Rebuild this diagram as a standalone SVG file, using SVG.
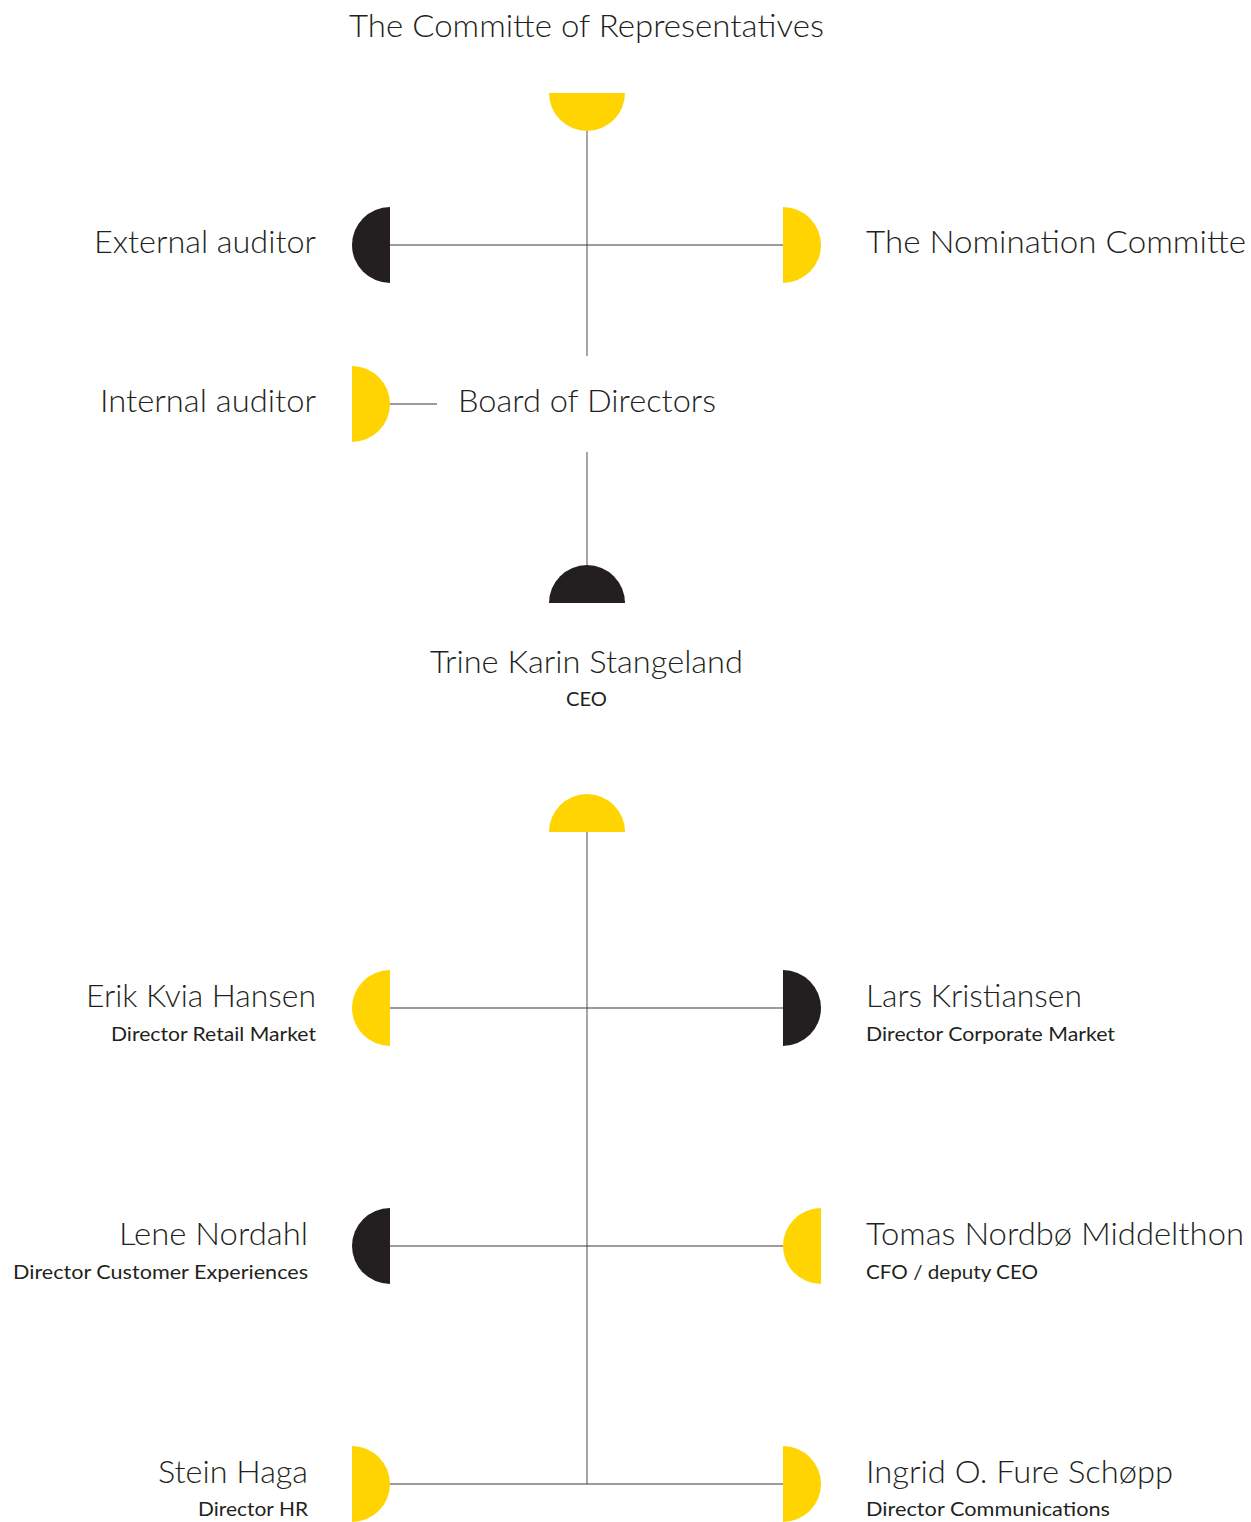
<svg xmlns="http://www.w3.org/2000/svg" width="1251" height="1522" viewBox="0 0 1251 1522">
<style>
.y{fill:#FFD400}
.d{fill:#231F20}
.v{stroke:#808080;stroke-width:1.4;fill:none}
.h{stroke:#3a3a3a;stroke-width:1.1;fill:none}
text{font-family:Lato,"Open Sans","Liberation Sans",sans-serif;fill:#231F20}
.n{font-size:31px;font-weight:300}
.s{font-size:20px;font-weight:400}
.e{text-anchor:end}
</style>
<rect width="1251" height="1522" fill="#fff"/>
<g id="connectors">
<line class="v" x1="587" y1="131" x2="587" y2="356"/>
<line class="h" x1="390" y1="245" x2="783" y2="245"/>
<line class="h" x1="390" y1="404" x2="437" y2="404"/>
<line class="v" x1="587" y1="452" x2="587" y2="565"/>
<line class="v" x1="587" y1="832" x2="587" y2="1484"/>
<line class="h" x1="390" y1="1008" x2="783" y2="1008"/>
<line class="h" x1="390" y1="1246" x2="783" y2="1246"/>
<line class="h" x1="390" y1="1484" x2="783" y2="1484"/>
</g>
<g id="committee">
<path class="y" d="M549,93 A38,38 0 0 0 625,93 Z"/>
<text class="n" x="349" y="37" textLength="475" lengthAdjust="spacingAndGlyphs">The Committe of Representatives</text>
</g>
<g id="external-auditor">
<path class="d" d="M390,207 A38,38 0 0 0 390,283 Z"/>
<text class="n e" x="316" y="253" textLength="222" lengthAdjust="spacingAndGlyphs">External auditor</text>
</g>
<g id="nomination">
<path class="y" d="M783,207 A38,38 0 0 1 783,283 Z"/>
<text class="n" x="866" y="253" textLength="380" lengthAdjust="spacingAndGlyphs">The Nomination Committe</text>
</g>
<g id="internal-auditor">
<path class="y" d="M352,366 A38,38 0 0 1 352,442 Z"/>
<text class="n e" x="316" y="412" textLength="216" lengthAdjust="spacingAndGlyphs">Internal auditor</text>
</g>
<g id="board">
<text class="n" x="458" y="412" textLength="258" lengthAdjust="spacingAndGlyphs">Board of Directors</text>
</g>
<g id="ceo">
<path class="d" d="M549,603 A38,38 0 0 1 625,603 Z"/>
<text class="n" x="430" y="673" textLength="313" lengthAdjust="spacingAndGlyphs">Trine Karin Stangeland</text>
<text class="s" x="566" y="706" textLength="41" lengthAdjust="spacingAndGlyphs">CEO</text>
</g>
<g id="management">
<path class="y" d="M549,832 A38,38 0 0 1 625,832 Z"/>
</g>
<g id="erik">
<path class="y" d="M390,970 A38,38 0 0 0 390,1046 Z"/>
<text class="n e" x="316" y="1007" textLength="230" lengthAdjust="spacingAndGlyphs">Erik Kvia Hansen</text>
<text class="s e" x="316" y="1041" textLength="205" lengthAdjust="spacingAndGlyphs">Director Retail Market</text>
</g>
<g id="lars">
<path class="d" d="M783,970 A38,38 0 0 1 783,1046 Z"/>
<text class="n" x="866" y="1007" textLength="216" lengthAdjust="spacingAndGlyphs">Lars Kristiansen</text>
<text class="s" x="866" y="1041" textLength="249" lengthAdjust="spacingAndGlyphs">Director Corporate Market</text>
</g>
<g id="lene">
<path class="d" d="M390,1208 A38,38 0 0 0 390,1284 Z"/>
<text class="n e" x="308" y="1245" textLength="189" lengthAdjust="spacingAndGlyphs">Lene Nordahl</text>
<text class="s e" x="308" y="1279" textLength="295" lengthAdjust="spacingAndGlyphs">Director Customer Experiences</text>
</g>
<g id="tomas">
<path class="y" d="M821,1208 A38,38 0 0 0 821,1284 Z"/>
<text class="n" x="866" y="1245" textLength="378" lengthAdjust="spacingAndGlyphs">Tomas Nordbø Middelthon</text>
<text class="s" x="866" y="1279" textLength="172" lengthAdjust="spacingAndGlyphs">CFO / deputy CEO</text>
</g>
<g id="stein">
<path class="y" d="M352,1446 A38,38 0 0 1 352,1522 Z"/>
<text class="n e" x="308" y="1483" textLength="150" lengthAdjust="spacingAndGlyphs">Stein Haga</text>
<text class="s e" x="308" y="1516" textLength="110" lengthAdjust="spacingAndGlyphs">Director HR</text>
</g>
<g id="ingrid">
<path class="y" d="M783,1446 A38,38 0 0 1 783,1522 Z"/>
<text class="n" x="866" y="1483" textLength="307" lengthAdjust="spacingAndGlyphs">Ingrid O. Fure Schøpp</text>
<text class="s" x="866" y="1516" textLength="244" lengthAdjust="spacingAndGlyphs">Director Communications</text>
</g>
</svg>
